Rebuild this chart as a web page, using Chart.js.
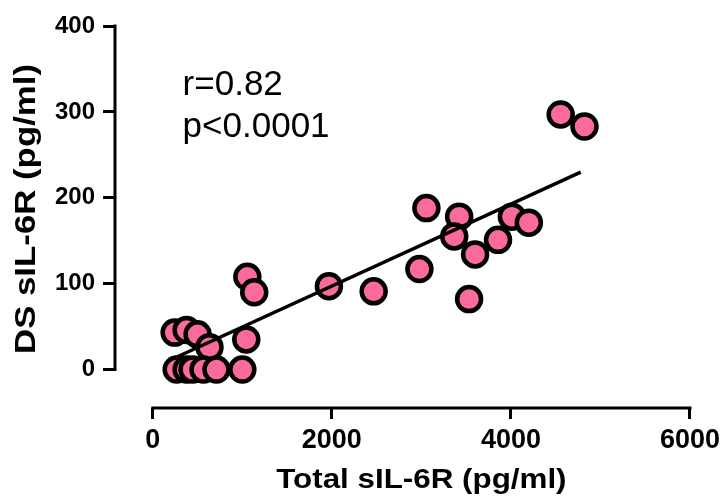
<!DOCTYPE html>
<html>
<head>
<meta charset="utf-8">
<script src="https://cdn.jsdelivr.net/npm/chart.js@4/dist/chart.umd.min.js"></script>
<style>
  html, body { margin: 0; padding: 0; background: #fff; }
  #wrap { width: 725px; height: 500px; position: relative; }
</style>
</head>
<body>
<div id="wrap"><canvas id="c" width="725" height="500"></canvas></div>
<script>
// ---- data ----
const totalSIL6R = [244, 378, 500, 633, 1044, 1056, 1133, 1967, 2467, 2978, 3056, 3422, 3367, 3600, 3856, 4011, 4200, 3533, 4556, 4822, 267, 378, 444, 567, 711, 1000];
const dsSIL6R    = [43, 46, 41, 26, 35, 108, 90, 97, 91, 117, 188, 178, 155, 134, 151, 178, 171, 82, 297, 283, 0, 0, 0, 0, 0, 0];
const fitX = [244, 4780];
const fitY = [13.4, 229.8];
const xTicks = [0, 2000, 4000, 6000];
const yTicks = [0, 100, 200, 300, 400];
const xTitle = 'Total sIL-6R (pg/ml)';
const yTitle = 'DS sIL-6R (pg/ml)';
const statLines = ['r=0.82', 'p<0.0001'];

const FONT = '"Liberation Sans", Arial, Helvetica, sans-serif';

const points = totalSIL6R.map((x, i) => ({ x: x, y: dsSIL6R[i] }));
const fitLine = fitX.map((x, i) => ({ x: x, y: fitY[i] }));

const axisPlugin = {
  id: 'prismAxes',
  beforeDatasetsDraw(chart) {
    const { ctx, chartArea, scales } = chart;
    const xs = scales.x, ys = scales.y;
    ctx.save();
    ctx.strokeStyle = '#000';
    ctx.lineWidth = 3;
    ctx.lineCap = 'butt';
    ctx.beginPath();
    ctx.moveTo(xs.getPixelForValue(xTicks[0]) - 1.5, chartArea.bottom);
    ctx.lineTo(xs.getPixelForValue(xTicks[xTicks.length - 1]) + 1.5, chartArea.bottom);
    ctx.stroke();
    ctx.beginPath();
    ctx.moveTo(chartArea.left, ys.getPixelForValue(yTicks[0]) + 1.5);
    ctx.lineTo(chartArea.left, ys.getPixelForValue(yTicks[yTicks.length - 1]) - 1.5);
    ctx.stroke();
    ctx.restore();
  },
  afterDraw(chart) {
    const { ctx, scales } = chart;
    const xs = scales.x;
    ctx.save();
    ctx.fillStyle = '#000';
    ctx.textAlign = 'center';
    ctx.textBaseline = 'middle';
    // x axis title (slightly wide, as in the reference)
    ctx.font = 'bold 28px ' + FONT;
    const xc = (xs.getPixelForValue(xTicks[0]) + xs.getPixelForValue(xTicks[xTicks.length - 1])) / 2;
    ctx.save();
    ctx.translate(xc, 480);
    ctx.scale(1.12, 1);
    ctx.fillText(xTitle, 0, 0);
    ctx.restore();
    // y axis title
    ctx.font = 'bold 29px ' + FONT;
    ctx.save();
    ctx.translate(27, 209);
    ctx.rotate(-Math.PI / 2);
    ctx.scale(1.2, 1);
    ctx.fillText(yTitle, 0, 0);
    ctx.restore();
    // statistics
    ctx.font = '35px ' + FONT;
    ctx.textAlign = 'left';
    ctx.textBaseline = 'alphabetic';
    const tx = xs.getPixelForValue(333);
    ctx.fillText(statLines[0], tx, 95);
    ctx.fillText(statLines[1], tx, 137);
    ctx.restore();
  }
};

new Chart(document.getElementById('c'), {
  type: 'scatter',
  data: {
    datasets: [
      {
        type: 'line',
        label: 'fit',
        data: fitLine,
        borderColor: '#000',
        borderWidth: 3.5,
        pointRadius: 0,
        fill: false,
        order: 0,
        clip: false
      },
      {
        label: 'samples',
        data: points,
        backgroundColor: '#FA6A9C',
        borderColor: '#000',
        borderWidth: 4.5,
        pointRadius: 12,
        pointHoverRadius: 12,
        order: 1,
        clip: false
      }
    ]
  },
  options: {
    responsive: false,
    animation: false,
    devicePixelRatio: 1,
    layout: { padding: { left: 0, top: 26, right: 32, bottom: 0 } },
    plugins: { legend: { display: false }, tooltip: { enabled: false } },
    scales: {
      x: {
        type: 'linear',
        min: -422.2,
        max: 6000,
        afterBuildTicks(s) { s.ticks = xTicks.map(v => ({ value: v })); },
        afterFit(s) { s.height = 92; },
        border: { display: false },
        grid: { display: true, drawOnChartArea: false, drawTicks: true, tickLength: 11, lineWidth: 3, color: '#000' },
        ticks: { color: '#000', padding: 5, maxRotation: 0, autoSkip: false, callback: v => String(v), font: { family: FONT, size: 27, weight: 'bold' } }
      },
      y: {
        type: 'linear',
        min: -44.8,
        max: 400,
        afterBuildTicks(s) { s.ticks = yTicks.map(v => ({ value: v })); },
        afterFit(s) { s.width = 115; },
        border: { display: false },
        grid: { display: true, drawOnChartArea: false, drawTicks: true, tickLength: 12, lineWidth: 3, color: '#000' },
        ticks: { color: '#000', padding: 8, autoSkip: false, callback: v => String(v), font: { family: FONT, size: 24, weight: 'bold' } }
      }
    }
  },
  plugins: [axisPlugin]
});
</script>
</body>
</html>
